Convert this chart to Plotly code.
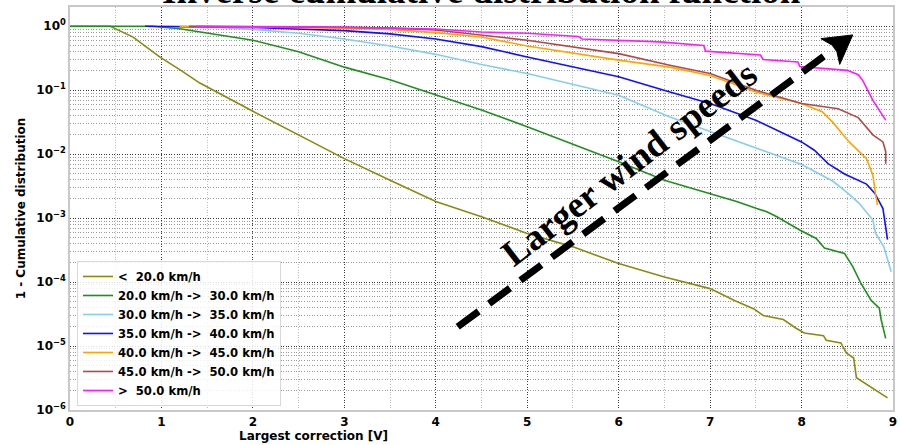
import math
import plotly.graph_objects as go

# ---- data: 1 - CDF of the largest correction, per wind-speed class ----
x_lt20 = [0, 0.44, 0.69, 0.98, 1.2, 1.42, 2.0, 2.5, 3.0, 3.5, 4.0, 4.5, 5.0, 5.5, 6.0, 6.5,
          7.0, 7.26, 7.48, 7.58, 7.80, 7.94, 8.03, 8.24, 8.27, 8.43, 8.49, 8.57, 8.60, 8.94]
y_lt20 = [1, 1, 0.676, 0.331, 0.209, 0.129, 0.0468, 0.0200, 8.5e-3, 3.9e-3, 1.82e-3, 1.05e-3,
          5.75e-4, 3.55e-4, 1.95e-4, 1.20e-4, 7.9e-5, 5.2e-5, 3.8e-5, 3.0e-5, 2.6e-5, 1.9e-5,
          1.6e-5, 1.45e-5, 1.23e-5, 1.12e-5, 7.8e-6, 6.5e-6, 3.2e-6, 1.55e-6]

x_20_30 = [0, 0.9, 1.2, 1.41, 2.0, 2.5, 3.0, 3.5, 4.0, 4.5, 5.0, 5.5, 6.0, 6.5, 7.0, 7.29, 7.51,
           7.62, 7.73, 7.98, 8.16, 8.25, 8.47, 8.56, 8.65, 8.76, 8.85, 8.87, 8.92]
y_20_30 = [1, 1, 0.912, 0.813, 0.603, 0.398, 0.229, 0.145, 0.0832, 0.049, 0.0269, 0.0145,
           7.6e-3, 3.9e-3, 2.45e-3, 1.82e-3, 1.41e-3, 1.26e-3, 1.05e-3, 6.5e-4, 4.8e-4, 3.4e-4,
           2.8e-4, 1.74e-4, 9.5e-5, 5.2e-5, 3.9e-5, 2.6e-5, 1.32e-5]

x_30_35 = [1.0, 1.5, 1.96, 2.5, 3.0, 3.5, 4.0, 4.5, 5.0, 5.5, 6.0, 6.56, 7.0, 7.5, 8.0, 8.34,
           8.49, 8.63, 8.78, 8.81, 8.90, 8.98]
y_30_35 = [1, 0.977, 0.898, 0.776, 0.631, 0.490, 0.363, 0.251, 0.182, 0.123, 0.0832, 0.038,
           0.0224, 0.0123, 6.9e-3, 3.8e-3, 2.57e-3, 1.70e-3, 9.3e-4, 5.75e-4, 3.55e-4, 1.45e-4]

x_35_40 = [0.82, 1.5, 2.0, 3.0, 3.5, 4.0, 4.5, 5.0, 5.5, 6.0, 6.56, 7.0, 7.5, 8.0, 8.14, 8.29,
           8.47, 8.71, 8.80, 8.89, 8.94]
y_35_40 = [1, 0.989, 0.955, 0.851, 0.759, 0.631, 0.479, 0.331, 0.234, 0.162, 0.0933, 0.0617,
           0.0339, 0.0155, 0.0115, 7.1e-3, 4.9e-3, 3.4e-3, 2.45e-3, 1.41e-3, 4.6e-4]

x_40_45 = [1.2, 2.0, 3.0, 3.5, 4.0, 4.5, 5.0, 6.0, 6.56, 7.0, 7.5, 8.0, 8.23, 8.34, 8.52, 8.71,
           8.78, 8.81, 8.83]
y_40_45 = [1, 0.977, 0.933, 0.891, 0.794, 0.676, 0.49, 0.295, 0.229, 0.170, 0.0933, 0.0617,
           0.0457, 0.0316, 0.0155, 8.5e-3, 4.7e-3, 2.3e-3, 1.6e-3]

x_45_50 = [1.3, 2.0, 3.0, 3.5, 4.0, 5.0, 6.0, 6.56, 7.0, 7.5, 8.0, 8.4, 8.62, 8.78, 8.89, 8.92,
           8.92]
y_45_50 = [1, 0.989, 0.955, 0.933, 0.871, 0.603, 0.372, 0.245, 0.182, 0.100, 0.0617, 0.0513,
           0.0372, 0.020, 0.0155, 0.011, 7.1e-3]

x_gt50 = [1.38, 2.0, 3.0, 4.0, 4.5, 5.0, 5.56, 5.6, 6.45, 6.93, 6.95, 7.55, 7.58, 7.96, 7.98,
          8.5, 8.62, 8.67, 8.78, 8.92]
y_gt50 = [1, 0.989, 0.966, 0.902, 0.813, 0.776, 0.692, 0.631, 0.569, 0.501, 0.407, 0.355,
          0.302, 0.275, 0.234, 0.204, 0.174, 0.141, 0.069, 0.034]

names = ["&lt;&nbsp; 20.0 km/h",
         "20.0 km/h -&gt;&nbsp; 30.0 km/h",
         "30.0 km/h -&gt;&nbsp; 35.0 km/h",
         "35.0 km/h -&gt;&nbsp; 40.0 km/h",
         "40.0 km/h -&gt;&nbsp; 45.0 km/h",
         "45.0 km/h -&gt;&nbsp; 50.0 km/h",
         "&gt;&nbsp; 50.0 km/h"]
xs = [x_lt20, x_20_30, x_30_35, x_35_40, x_40_45, x_45_50, x_gt50]
ys = [y_lt20, y_20_30, y_30_35, y_35_40, y_40_45, y_45_50, y_gt50]
colors = ["#8a8a12", "#1f8f1f", "#87ceeb", "#1010ff", "#ffa500", "#b04a46", "#ff1aff"]

x_ticks = list(range(0, 10))
y_decades = [-6, -5, -4, -3, -2, -1, 0]

# ---- figure ----
W, H = 900, 445
ML, MR, MT, MB = 70, 3, 7, 35
PW, PH = W - ML - MR, H - MT - MB
X_RANGE = [0, 9]
Y_RANGE = [-6, 0.3]

fig = go.Figure()
for n, x, y, c in zip(names, xs, ys, colors):
    fig.add_trace(go.Scatter(x=x, y=y, mode="lines", name=n,
                             line=dict(color=c, width=1.6)))

tick_font = dict(family="DejaVu Sans", size=12, color="black", weight="bold")
ytext = ["<b>10<sup>%s</sup></b>" % (str(d).replace("-", "\u2212")) for d in y_decades]
minor_y = [m * 10 ** d for d in range(-6, 1) for m in range(2, 10)]

fig.update_xaxes(range=X_RANGE, tickvals=x_ticks, ticktext=[str(t) for t in x_ticks],
                 tickfont=tick_font, showgrid=True, gridcolor="#3a3a3a", griddash="1px,1.6px",
                 gridwidth=1, zeroline=False, showline=True, mirror=True,
                 linecolor="#c8c8c8", linewidth=1.5, ticks="",
                 minor=dict(dtick=0.5, showgrid=True, gridcolor="#bdbdbd",
                            griddash="1px,1.6px", gridwidth=1))
fig.update_yaxes(type="log", range=Y_RANGE, tickvals=[10 ** d for d in y_decades],
                 ticktext=ytext, tickfont=tick_font, showgrid=True, gridcolor="#3a3a3a",
                 griddash="1px,1.6px", gridwidth=1, zeroline=False, showline=True,
                 mirror=True, linecolor="#c8c8c8", linewidth=1.5, ticks="",
                 title=dict(text="<b>1 - Cumulative distribution</b>", standoff=8,
                            font=dict(family="DejaVu Sans", size=12, color="black")),
                 minor=dict(tickvals=minor_y, showgrid=True, gridcolor="#9a9a9a",
                            griddash="1px,1.6px", gridwidth=1))


def to_paper(xd, yd):
    """Data coordinates (linear x, log y) -> paper coordinates."""
    px = (xd - X_RANGE[0]) / (X_RANGE[1] - X_RANGE[0])
    py = (math.log10(yd) - Y_RANGE[0]) / (Y_RANGE[1] - Y_RANGE[0])
    return px, py


# dashed arrow pointing towards larger wind speeds
tail = to_paper(4.24, 2.0e-5)
tip = to_paper(8.56, 0.73)
dxp, dyp = (tip[0] - tail[0]) * PW, (tip[1] - tail[1]) * PH
L = math.hypot(dxp, dyp)
ux, uy = dxp / L, dyp / L           # unit direction in pixels (y up)
vx, vy = -uy, ux                    # perpendicular
head_len, head_half, notch = 28, 16, 7


def off(p, ax, ay):
    return p[0] + ax / PW, p[1] + ay / PH


base = off(tip, -ux * head_len, -uy * head_len)
c1 = off(base, vx * head_half, vy * head_half)
c2 = off(base, -vx * head_half, -vy * head_half)
nt = off(tip, -ux * (head_len - notch), -uy * (head_len - notch))

fig.add_shape(type="line", xref="paper", yref="paper", x0=tail[0], y0=tail[1],
              x1=nt[0], y1=nt[1], line=dict(color="black", width=7, dash="26px,13px"))
fig.add_shape(type="path", xref="paper", yref="paper",
              path="M %f %f L %f %f L %f %f L %f %f Z" % (tip[0], tip[1], c1[0], c1[1],
                                                         nt[0], nt[1], c2[0], c2[1]),
              fillcolor="black", line=dict(color="black", width=1))

fig.add_annotation(x=6.115, y=math.log10(7.2e-3), xref="x", yref="y",
                   text="<b>Larger wind speeds</b>", showarrow=False, textangle=-37.5,
                   font=dict(family="Liberation Serif", size=37, color="black"),
                   xanchor="center", yanchor="middle")

fig.add_annotation(x=0.5, y=0.985, xref="paper", yref="paper",
                   text="<b>Inverse cumulative distribution function</b>", showarrow=False,
                   font=dict(family="Liberation Serif", size=37, color="black"),
                   xanchor="center", yanchor="bottom")

fig.add_annotation(x=0.296, y=-0.0645, xref="paper", yref="paper",
                   text="<b>Largest correction [V]</b>", showarrow=False,
                   font=dict(family="DejaVu Sans", size=12, color="black"),
                   xanchor="center", yanchor="middle")

fig.update_layout(
    width=W, height=H, margin=dict(l=ML, r=MR, t=MT, b=MB),
    plot_bgcolor="white", paper_bgcolor="white",
    legend=dict(x=0.0085, y=0.01, xanchor="left", yanchor="bottom",
                bgcolor="rgba(255,255,255,0.85)", bordercolor="#d8d8d8", borderwidth=1,
                font=dict(family="DejaVu Sans", size=11.6, color="black", weight="bold"),
                tracegroupgap=0, itemwidth=30),
    showlegend=True,
)

fig.write_html("out.html")
